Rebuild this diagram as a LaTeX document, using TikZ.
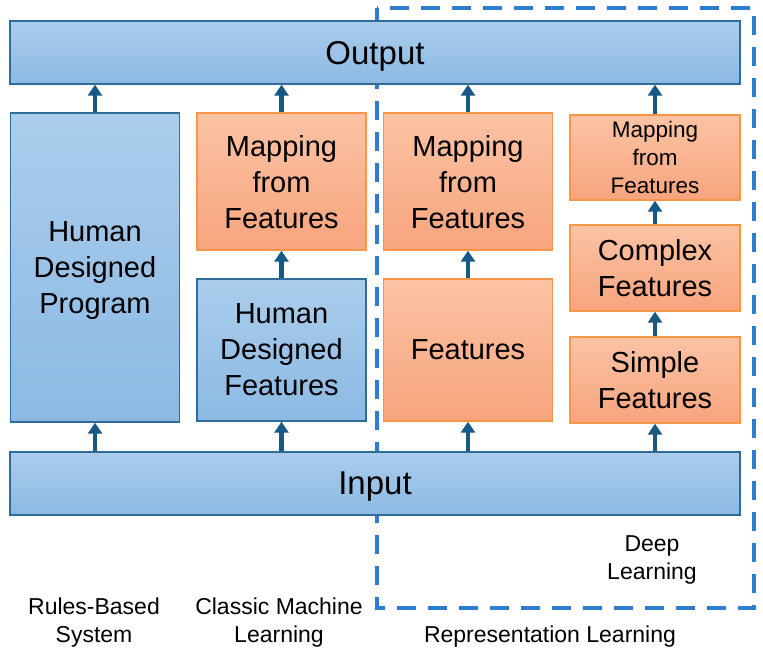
\documentclass[tikz,border=0pt]{standalone}
\usepackage{fontspec}
\setmainfont{Liberation Sans}
\usetikzlibrary{arrows.meta}
\definecolor{bluetop}{HTML}{AACDEC}
\definecolor{bluebot}{HTML}{8CB9E3}
\definecolor{blueedge}{HTML}{2F6C9A}
\definecolor{orgtop}{HTML}{FCC3A4}
\definecolor{orgbot}{HTML}{F7A47D}
\definecolor{orgedge}{HTML}{F79646}
\definecolor{arrowcol}{HTML}{175986}
\definecolor{dashcol}{HTML}{2E7DD1}
\tikzset{
  box/.style={rectangle, line width=1.4pt, align=center, inner sep=0pt, text=black, text depth=0pt},
  bluebox/.style={box, draw=blueedge, top color=bluetop, bottom color=bluebot},
  orgbox/.style={box, draw=orgedge, top color=orgtop, bottom color=orgbot},
  bigtxt/.style={font=\fontsize{33}{38}\selectfont},
  midtxt/.style={font=\fontsize{29}{36}\selectfont},
  smalltxt/.style={font=\fontsize{22.5}{28}\selectfont},
  lbl/.style={align=center, inner sep=0pt, text depth=0pt, font=\fontsize{23}{28}\selectfont, text=black},
  uparrow/.style={draw=arrowcol, line width=4.5pt, -{Triangle[width=14pt,length=11pt]}},
  dashbox/.style={draw=dashcol, line width=4pt, dash pattern=on 19pt off 12pt},
}
\begin{document}
\begin{tikzpicture}[x=1pt,y=-1pt]
\useasboundingbox (0,0) rectangle (763,658);
% dashed region
\coordinate (d1) at (377,8);
\coordinate (d2) at (754,608);
\draw[dashbox] (d1) rectangle (d2);
% output / input
\node[bluebox, bigtxt, minimum width=730pt, minimum height=63pt] (out) at (375,52.5) {Output};
\node[bluebox, bigtxt, minimum width=730pt, minimum height=63pt] (in) at (375,483.5) {Input};
% column 1
\node[bluebox, midtxt, minimum width=169pt, minimum height=309pt] (hdp) at (95,267.5) {Human\\Designed\\Program};
% column 2
\node[orgbox, midtxt, minimum width=169pt, minimum height=137pt] (map2) at (281.5,181.5) {Mapping\\from\\Features};
\node[bluebox, midtxt, minimum width=169pt, minimum height=142pt] (hdf) at (281.5,350) {Human\\Designed\\Features};
% column 3
\node[orgbox, midtxt, minimum width=169pt, minimum height=137pt] (map3) at (468,181.5) {Mapping\\from\\Features};
\node[orgbox, midtxt, minimum width=169pt, minimum height=142pt] (feat) at (468,350) {Features};
% column 4
\node[orgbox, smalltxt, minimum width=170pt, minimum height=85pt] (map4) at (655,157.5) {Mapping\\from\\Features};
\node[orgbox, midtxt, minimum width=170pt, minimum height=86pt] (cplx) at (655,268) {Complex\\Features};
\node[orgbox, midtxt, minimum width=170pt, minimum height=86pt] (simp) at (655,380) {Simple\\Features};
% arrows
\draw[uparrow] (in.north -| hdp.south) -- (hdp.south);
\draw[uparrow] (hdp.north) -- (hdp.north |- out.south);
\draw[uparrow] (in.north -| hdf.south) -- (hdf.south);
\draw[uparrow] (hdf.north) -- (map2.south);
\draw[uparrow] (map2.north) -- (map2.north |- out.south);
\draw[uparrow] (in.north -| feat.south) -- (feat.south);
\draw[uparrow] (feat.north) -- (map3.south);
\draw[uparrow] (map3.north) -- (map3.north |- out.south);
\draw[uparrow] (in.north -| simp.south) -- (simp.south);
\draw[uparrow] (simp.north) -- (cplx.south);
\draw[uparrow] (cplx.north) -- (map4.south);
\draw[uparrow] (map4.north) -- (map4.north |- out.south);
% labels
\node[lbl] (rb) at (94,620.5) {Rules-Based\\System};
\node[lbl] (cml) at (279,620.5) {Classic Machine\\Learning};
\node[lbl] (dl) at (652,557.5) {Deep\\Learning};
\node[lbl, anchor=base] (rl) at (550,642) {Representation Learning};
\end{tikzpicture}
\end{document}
